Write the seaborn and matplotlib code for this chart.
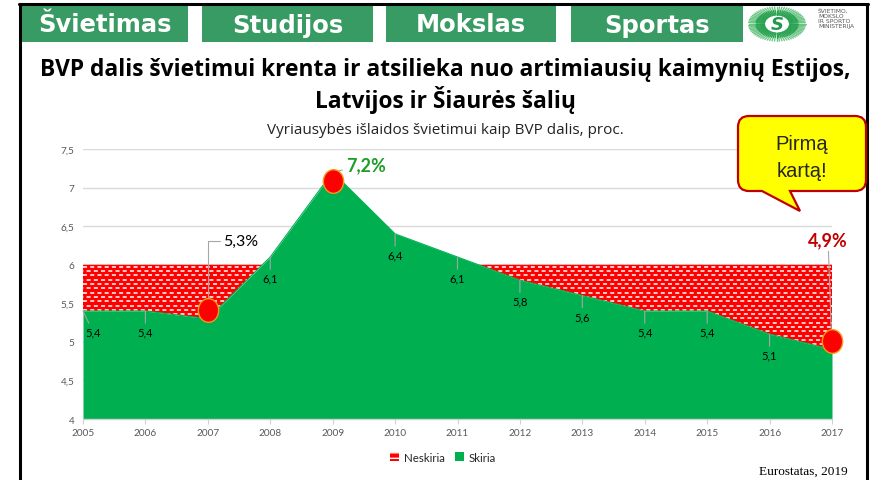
import numpy as np
import pandas as pd
import matplotlib
matplotlib.use("Agg")
import matplotlib.pyplot as plt
import seaborn as sns
from matplotlib.patches import Patch, PathPatch, Rectangle
from matplotlib.path import Path
from matplotlib.transforms import ScaledTranslation, Affine2D
from matplotlib.lines import Line2D

# ---------------- data ----------------
years = [2005, 2006, 2007, 2008, 2009, 2010, 2011, 2012, 2013, 2014, 2015, 2016, 2017]
skiria = [5.4, 5.4, 5.3, 6.1, 7.2, 6.4, 6.1, 5.8, 5.6, 5.4, 5.4, 5.1, 4.9]
neskiria_level = 6.0
highlight_years = [2007, 2009, 2017]
highlight_labels = ["5,3%", "7,2%", "4,9%"]
yticks = [4, 4.5, 5, 5.5, 6, 6.5, 7, 7.5]
header_items = ["Švietimas", "Studijos", "Mokslas", "Sportas"]
title_lines = ["BVP dalis švietimui krenta ir atsilieka nuo artimiausių kaimynių Estijos,",
               "Latvijos ir Šiaurės šalių"]
subtitle = "Vyriausybės išlaidos švietimui kaip BVP dalis, proc."
legend_labels = ["Neskiria", "Skiria"]
source_text = "Eurostatas, 2019"
callout_lines = ["Pirmą", "kartą!"]
logo_text = "ŠVIETIMO,\nMOKSLO\nIR SPORTO\nMINISTERIJA"

GREEN = "#00B050"
RED = "#FF0000"

sns.set_theme(style="white")
plt.rcParams['font.family'] = ['Lato', 'DejaVu Sans']
plt.rcParams['lines.scale_dashes'] = False

W, H = 871, 481
fig = plt.figure(figsize=(W / 100, H / 100), dpi=100)
fig.patch.set_facecolor("white")


def fx(x):
    return x / W


def fy(y):
    return 1 - y / H


# ---------------- frame ----------------
fig.add_artist(Line2D([fx(19.5), fx(19.5)], [fy(4.5), fy(482)], color="black", lw=2.2))
fig.add_artist(Line2D([fx(18.5), fx(867.5)], [fy(5), fy(5)], color="black", lw=2.2))
fig.add_artist(Line2D([fx(867), fx(867)], [fy(4.5), fy(482)], color="black", lw=2.2))

# ---------------- header ----------------
header_x = [(21, 188), (202, 373), (386, 556), (571, 743)]
for (x0, x1), lab in zip(header_x, header_items):
    fig.add_artist(Rectangle((fx(x0), fy(43)), (x1 - x0) / W, 36 / H,
                             facecolor="#379B63", edgecolor="none", transform=fig.transFigure))
    fig.text(fx((x0 + x1) / 2), fy(32.5), lab, color="white", fontsize=17.5, weight="bold",
             family="DejaVu Sans", ha="center", va="baseline")

# logo
lax = fig.add_axes([fx(747), fy(43), 60 / W, 36 / H])
lax.set_xlim(-1, 1)
lax.set_ylim(-1, 1)
lax.axis("off")
for ang in np.linspace(0, 2 * np.pi, 72, endpoint=False):
    c, s = np.cos(ang), np.sin(ang)
    lax.plot([0.42 * c, 0.95 * c], [0.5 * s, 0.95 * s], color="#4DBA6A", lw=1.0, alpha=0.8)
    lax.plot([0.42 * c, 0.7 * c], [0.5 * s, 0.75 * s], color="#1E9A4A", lw=1.0, alpha=0.8)
lax.add_patch(matplotlib.patches.Ellipse((0, 0), 0.7, 0.85, facecolor="white", edgecolor="none"))
lax.text(0, -0.02, "S", color="#1E9A4A", fontsize=13, weight="bold", style="italic",
         ha="center", va="center", family="DejaVu Sans")
fig.text(fx(818), fy(9), logo_text, fontsize=4.3, color="#555555", ha="left", va="top",
         family="DejaVu Sans", linespacing=1.0)

# ---------------- titles ----------------
fig.text(fx(445), fy(76), title_lines[0], fontsize=16.4, weight="bold", ha="center", va="baseline",
         color="black", family="Open Sans")
fig.text(fx(445), fy(108), title_lines[1], fontsize=16.4, weight="bold", ha="center", va="baseline",
         color="black", family="Open Sans")
fig.text(fx(445), fy(134), subtitle, fontsize=11, ha="center", va="baseline", color="#222222",
         family="Open Sans")

# ---------------- chart ----------------
df = pd.DataFrame({"year": years, "skiria": skiria})
sk = np.array(skiria)

ax = fig.add_axes([fx(83), fy(420), (832 - 83) / W, (420 - 150) / H])
ax.set_facecolor("none")
ax.fill_between(years, 4, skiria, color=GREEN, lw=0, zorder=2)
red = ax.fill_between(years, skiria, neskiria_level, where=sk <= neskiria_level,
                      interpolate=True, color=RED, lw=0, zorder=2)

# white dash texture inside the red area
rows = np.arange(neskiria_level - 0.028, 4.0, -0.0557)
for p in red.get_paths():
    for i, yv in enumerate(rows):
        ln, = ax.plot([years[0], years[-1]], [yv, yv], color="white", lw=1.1,
                      linestyle=((i % 2) * 2.6, (2.9, 2.3)), zorder=3,
                      dash_capstyle="butt")
        ln.set_clip_path(p, ax.transData)

sns.lineplot(data=df, x="year", y="skiria", color=GREEN, lw=0.8, ax=ax, zorder=4)

ax.set_xlim(years[0], years[-1])
ax.set_ylim(yticks[0], yticks[-1])
ax.set_yticks(yticks)
ax.set_yticklabels([f"{v:g}".replace(".", ",") for v in yticks])
ax.set_xticks(years)
ax.set_xticklabels([str(y) for y in years])
ax.yaxis.grid(True, color="#D9D9D9", lw=1.0)
ax.xaxis.grid(False)
ax.set_axisbelow(True)
for s in ["left", "top", "right"]:
    ax.spines[s].set_visible(False)
ax.spines["bottom"].set_color("#D0D0D0")
ax.spines["bottom"].set_linewidth(1.0)
ax.spines["bottom"].set_zorder(5)
ax.tick_params(axis="y", length=0, pad=6, labelsize=7.2, labelcolor="#595959")
ax.tick_params(axis="x", length=3.5, width=0.8, color="#D0D0D0", direction="out", pad=3,
               labelsize=7.2, labelcolor="#595959", bottom=True)
ax.set_xlabel("")
ax.set_ylabel("")

# data labels
for yr, v in zip(years, skiria):
    if yr in highlight_years:
        continue
    dx = 10 if yr == years[0] else 0
    ax.annotate(f"{v:.1f}".replace(".", ","), xy=(yr, v), xytext=(dx, -21),
                textcoords="offset pixels", ha="center", va="center", fontsize=8,
                color="black", zorder=5,
                arrowprops=dict(arrowstyle="-", color="#A6A6A6", lw=0.8, shrinkA=0, shrinkB=0))

# highlight markers (hand-placed shapes in the original, slightly off the point)
marker_dy_px = [9, -9, 9]
ell = Affine2D().scale(0.86, 1.0).transform_path(Path.unit_circle())
vals = dict(zip(years, skiria))
for yr, dy in zip(highlight_years, marker_dy_px):
    off = ax.transData + ScaledTranslation(0, dy / 100, fig.dpi_scale_trans)
    ax.plot([yr], [vals[yr]], marker=ell, ms=17, mfc=RED, mec="#F29A1A", mew=1.0,
            transform=off, zorder=7, clip_on=False, ls="none")

hl = dict(zip(highlight_years, highlight_labels))
ax.annotate(hl[2007], xy=(2007, vals[2007]), xytext=(15, 78), textcoords="offset pixels",
            ha="left", va="center", fontsize=11.5, color="black", zorder=6,
            arrowprops=dict(arrowstyle="-", color="#A6A6A6", lw=0.8, shrinkA=0, shrinkB=10,
                            connectionstyle="angle,angleA=0,angleB=90,rad=0"))
ax.annotate(hl[2009], xy=(2009, vals[2009]), xytext=(13, 7), textcoords="offset pixels",
            ha="left", va="center", fontsize=13, weight="bold", color="#1E9E28", zorder=6,
            arrowprops=dict(arrowstyle="-", color="#A6A6A6", lw=0.8, shrinkA=0, shrinkB=0))
ax.annotate(hl[2017], xy=(2017, vals[2017]), xytext=(-4, 110), textcoords="offset pixels",
            ha="center", va="center", fontsize=13, weight="bold", color="#C00000", zorder=6,
            annotation_clip=False,
            arrowprops=dict(arrowstyle="-", color="#A6A6A6", lw=0.8, shrinkA=0, shrinkB=0))

# ---------------- callout ----------------
x0, x1, y0, y1, r = 738, 866, 117, 192, 11
xa, xb, tipx, tipy = 762, 790, 800, 212
pts = [
    ((x0 + r, y0), Path.MOVETO),
    ((x1 - r, y0), Path.LINETO),
    ((x1, y0), Path.CURVE3), ((x1, y0 + r), Path.CURVE3),
    ((x1, y1 - r), Path.LINETO),
    ((x1, y1), Path.CURVE3), ((x1 - r, y1), Path.CURVE3),
    ((xb, y1), Path.LINETO),
    ((tipx, tipy), Path.LINETO),
    ((xa, y1), Path.LINETO),
    ((x0 + r, y1), Path.LINETO),
    ((x0, y1), Path.CURVE3), ((x0, y1 - r), Path.CURVE3),
    ((x0, y0 + r), Path.LINETO),
    ((x0, y0), Path.CURVE3), ((x0 + r, y0), Path.CURVE3),
    ((x0 + r, y0), Path.CLOSEPOLY),
]
verts = [(fx(px), fy(py)) for (px, py), _ in pts]
codes = [c for _, c in pts]
fig.add_artist(PathPatch(Path(verts, codes), facecolor="#FFFF00", edgecolor="#C00000", lw=1.6,
                         transform=fig.transFigure, zorder=10))
fig.text(fx(802), fy(150), callout_lines[0], fontsize=14.5, family="Liberation Sans",
         ha="center", va="baseline", zorder=11)
fig.text(fx(802), fy(177), callout_lines[1], fontsize=14.5, family="Liberation Sans",
         ha="center", va="baseline", zorder=11)

# ---------------- legend & source ----------------
handles = [Patch(facecolor=RED, edgecolor="white", hatch="---", lw=0),
           Patch(facecolor=GREEN, edgecolor="none")]
fig.legend(handles, legend_labels, loc="center", bbox_to_anchor=(fx(443), fy(458)), ncol=2,
           frameon=False, fontsize=8.3, handlelength=0.75, handleheight=0.75,
           columnspacing=0.9, handletextpad=0.4)
fig.text(fx(848), fy(475), source_text, family="Liberation Serif", fontsize=9.5,
         ha="right", va="baseline", color="black")

fig.savefig("out.png", dpi=100)
